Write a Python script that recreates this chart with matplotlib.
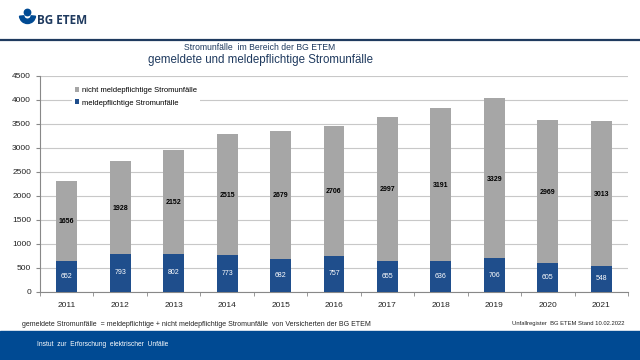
"""Stromunfälle im Bereich der BG ETEM — stacked bar chart."""

import matplotlib

matplotlib.use("Agg")
import matplotlib.pyplot as plt
import numpy as np
from matplotlib.patches import Circle, Wedge, Rectangle

plt.rcParams["font.family"] = ["Liberation Sans", "DejaVu Sans"]

years = ["2011", "2012", "2013", "2014", "2015", "2016", "2017", "2018", "2019", "2020", "2021"]
meldepflichtig = [652, 793, 802, 773, 682, 757, 655, 636, 706, 605, 548]
nicht_meldepflichtig = [1656, 1928, 2152, 2515, 2679, 2706, 2997, 3191, 3329, 2969, 3013]
yticks = list(range(0, 4501, 500))

NAVY = "#1F4E8C"
GRAY = "#A6A6A6"
BAND = "#004A93"
TITLE = "#1F3A5F"

fig = plt.figure(figsize=(6.4, 3.6), dpi=100)

# header / footer decoration in pixel coords
deco = fig.add_axes([0, 0, 1, 1], zorder=0)
deco.set_xlim(0, 640)
deco.set_ylim(360, 0)
deco.axis("off")
deco.plot([0, 640], [40, 40], color="#1F3A5F", lw=1.6)
deco.add_patch(Rectangle((0, 331), 640, 29, color=BAND))
deco.add_patch(Circle((27.5, 12.5), 3.2, color=BAND))
deco.add_patch(Wedge((27.5, 15.5), 8, 5, 175, width=4.3, color=BAND))
deco.text(37, 21, "BG ETEM", fontsize=8.5, fontweight="bold", color="#1F3A5F", va="center", ha="left",
          family=["Open Sans", "DejaVu Sans"])
deco.text(260, 47, "Stromunfälle  im Bereich der BG ETEM", fontsize=6.2, color=TITLE, ha="center", va="center")
deco.text(260, 60, "gemeldete und meldepflichtige Stromunfälle", fontsize=8.3, color=TITLE, ha="center", va="center")
deco.text(22, 325, "gemeldete Stromunfälle  = meldepflichtige + nicht meldepflichtige Stromunfälle  von Versicherten der BG ETEM",
          fontsize=5.0, color="#222222", ha="left", va="center")
deco.text(625, 323, "Unfallregister  BG ETEM Stand 10.02.2022", fontsize=4.2, color="#222222", ha="right", va="center")
deco.text(37, 345, "Instut  zur  Erforschung  elektrischer  Unfälle", fontsize=4.8, color="white", ha="left", va="center")

ax = fig.add_axes([40 / 640, 1 - 292 / 360, 588 / 640, 216 / 360], zorder=1)
ax.patch.set_alpha(0)
x = np.arange(len(years))
w = 0.39
b1 = ax.bar(x, meldepflichtig, w, color=NAVY, label="meldepflichtige Stromunfälle", zorder=3)
b2 = ax.bar(x, nicht_meldepflichtig, w, bottom=meldepflichtig, color=GRAY,
            label="nicht meldepflichtige Stromunfälle", zorder=3)

for xi, m, n in zip(x, meldepflichtig, nicht_meldepflichtig):
    ax.text(xi, m / 2, str(m), ha="center", va="center", fontsize=5, color="white", zorder=4)
    ax.text(xi, m + n / 2 - 20, str(n), ha="center", va="center", fontsize=5, color="black",
            fontweight="bold", zorder=4)

ax.set_xlim(-0.5, len(years) - 0.5)
ax.set_ylim(0, 4500)
ax.set_yticks(yticks)
ax.set_xticks(x)
ax.set_xticklabels(years)
ax.set_xticks(np.arange(-0.5, len(years)), minor=True)
ax.tick_params(axis="x", which="major", length=0, labelsize=6, pad=7, colors="#222222")
ax.tick_params(axis="x", which="minor", length=3, color="#888888")
ax.tick_params(axis="y", labelsize=6, length=3, color="#888888", colors="#222222")
ax.grid(axis="y", color="#C8C8C8", lw=0.8, zorder=0)
for s in ["top", "right"]:
    ax.spines[s].set_visible(False)
ax.spines["left"].set_color("#888888")
ax.spines["bottom"].set_color("#888888")

leg = ax.legend(handles=[b2, b1], loc="upper left", bbox_to_anchor=(0.055, 0.96), fontsize=5.5,
                frameon=True, framealpha=1, edgecolor="none", handlelength=0.6, handleheight=0.6,
                handletextpad=0.4, borderpad=0.3, labelspacing=0.7, borderaxespad=0)
leg.get_frame().set_facecolor("white")
leg.set_zorder(5)

fig.savefig("out.png", dpi=100)
